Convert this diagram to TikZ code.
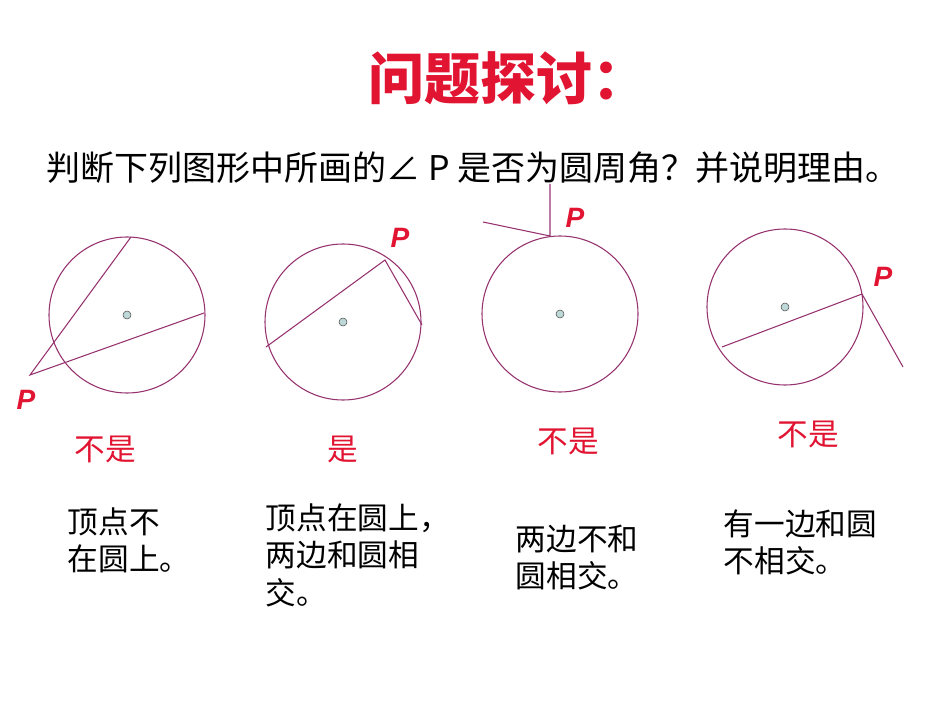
\documentclass[tikz,border=0pt]{standalone}
\usepackage{fontspec}
\newfontfamily\cjk{Noto Sans CJK SC}
\setsansfont{Liberation Sans}
\begin{document}
\begin{tikzpicture}[x=0.75pt,y=-0.75pt,
  circ/.style={draw=cpur,line width=0.8pt},
  ln/.style={draw=cpur,line width=0.8pt},
  dot/.style={circle,draw=black!70,fill=cdot,inner sep=0pt,minimum size=6pt},
  plab/.style={text=cred,font=\sffamily\bfseries\itshape\fontsize{21}{21}\selectfont},
  rlab/.style={text=cred,font=\cjk\fontsize{23}{23}\selectfont},
  expl/.style={anchor=north west,align=left,font=\cjk\fontsize{23}{28}\selectfont}]
\definecolor{cpur}{RGB}{150,50,110}
\definecolor{cred}{RGB}{225,20,50}
\definecolor{cdot}{RGB}{190,215,215}
\useasboundingbox (0,0) rectangle (950,713);
\node (title) at (508,78) {\cjk\bfseries\color{cred}\fontsize{42}{42}\selectfont 问题探讨：};
\node (q) at (473,168) {\cjk\fontsize{25.5}{25.5}\selectfont 判断下列图形中所画的∠ P 是否为圆周角？并说明理由。};
% 1
\draw[circ] (127,315) circle (78);
\node[dot] (c1) at (127,315) {};
\coordinate (p1) at (30,375); \coordinate (a1) at (131,237); \coordinate (b1) at (204,313);
\draw[ln] (a1) -- (p1) -- (b1);
\node[plab] (P1) at (26,400) {P};
\node[rlab] (r1) at (105,449) {不是};
\node[expl] (e1) at (63,503) {顶点不\\在圆上。};
% 2
\draw[circ] (343,322) circle (78);
\node[dot] (c2) at (343,322) {};
\coordinate (p2) at (385,260); \coordinate (a2) at (266,347); \coordinate (b2) at (422,325);
\draw[ln] (a2) -- (p2) -- (b2);
\node[plab] (P2) at (400,238) {P};
\node[rlab] (r2) at (343,449) {是};
\node[expl] (e2) at (261,499) {顶点在圆上，\\两边和圆相\\交。};
% 3
\draw[circ] (560,314) circle (78);
\node[dot] (c3) at (560,314) {};
\coordinate (p3) at (550,236); \coordinate (a3) at (483,222); \coordinate (b3) at (550,184);
\draw[ln] (a3) -- (p3) -- (b3);
\node[plab] (P3) at (575,218) {P};
\node[rlab] (r3) at (568,441) {不是};
\node[expl] (e3) at (511,520) {两边不和\\圆相交。};
% 4
\draw[circ] (785,307) circle (78);
\node[dot] (c4) at (785,307) {};
\coordinate (p4) at (862,294); \coordinate (a4) at (722,347); \coordinate (b4) at (903,367);
\draw[ln] (a4) -- (p4) -- (b4);
\node[plab] (P4) at (883,277) {P};
\node[rlab] (r4) at (808,434) {不是};
\node[expl] (e4) at (719,505) {有一边和圆\\不相交。};
\end{tikzpicture}
\end{document}
